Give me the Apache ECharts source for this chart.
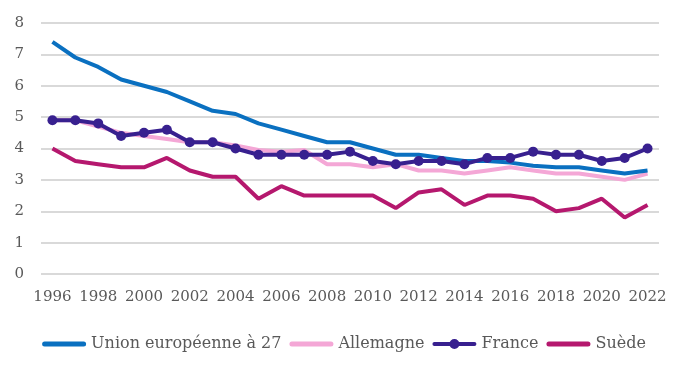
<!DOCTYPE html>
<html><head><meta charset="utf-8">
<script src="https://cdn.jsdelivr.net/npm/echarts@6/dist/echarts.min.js"></script>
<style>html,body{margin:0;padding:0;background:#fff}#c{width:688px;height:371px}</style>
</head><body><div id="c"></div>
<script>
const years = ['1996','1997','1998','1999','2000','2001','2002','2003','2004','2005','2006','2007','2008','2009','2010','2011','2012','2013','2014','2015','2016','2017','2018','2019','2020','2021','2022'];
const ue27 = [7.4,6.9,6.6,6.2,6.0,5.8,5.5,5.2,5.1,4.8,4.6,4.4,4.2,4.2,4.0,3.8,3.8,3.7,3.6,3.6,3.55,3.45,3.4,3.4,3.3,3.2,3.3];
const allemagne = [4.9,4.9,4.7,4.5,4.4,4.3,4.2,4.2,4.1,3.95,3.9,3.95,3.5,3.5,3.4,3.5,3.3,3.3,3.2,3.3,3.4,3.3,3.2,3.2,3.1,3.0,3.2];
const france = [4.9,4.9,4.8,4.4,4.5,4.6,4.2,4.2,4.0,3.8,3.8,3.8,3.8,3.9,3.6,3.5,3.6,3.6,3.5,3.7,3.7,3.9,3.8,3.8,3.6,3.7,4.0];
const suede = [4.0,3.6,3.5,3.4,3.4,3.7,3.3,3.1,3.1,2.4,2.8,2.5,2.5,2.5,2.5,2.1,2.6,2.7,2.2,2.5,2.5,2.4,2.0,2.1,2.4,1.8,2.2];
const names = ['Union européenne à 27','Allemagne','France','Suède'];
const colors = ['#0a70c0','#f4a7d6','#38208f','#b5186e'];
const font = 'DejaVu Serif';
const fs = 15;
const bbox = 'M0,0 L0.01,0 L0,0.01 Z M44,10 L43.99,10 L44,9.99 Z ';
const lineIcon = 'path://' + bbox + 'M2.5,2.5 L41.5,2.5 A2.5,2.5 0 0 1 41.5,7.5 L2.5,7.5 A2.5,2.5 0 0 1 2.5,2.5 Z';
const markIcon = 'path://' + bbox + 'M2,3 L17.5,3 L17.5,7 L2,7 A2,2 0 0 1 2,3 Z M26.5,3 L42,3 A2,2 0 0 1 42,7 L26.5,7 Z M17,5 A5,5 0 1 1 27,5 A5,5 0 1 1 17,5 Z';
const chart = echarts.init(document.getElementById('c'));
function line(name, data, color, marker, z){
  return {name, type:'line', data, z, symbol: marker?'circle':'none', symbolSize:10, showSymbol:marker,
    lineStyle:{width:4,color}, itemStyle:{color}, animation:false};
}
chart.setOption({
  animation:false,
  grid:{left:41,right:29,top:23,bottom:97},
  legend:{top:331,left:'center',itemWidth:44,itemHeight:10,itemGap:8,
    textStyle:{fontFamily:font,fontSize:16,color:'#595959'},
    data:names.map((n,i)=>({name:n,icon: i===2 ? markIcon : lineIcon}))},
  xAxis:{type:'category',data:years,boundaryGap:true,
    axisLine:{show:false},axisTick:{show:false},
    axisLabel:{interval:1,margin:16,fontFamily:font,fontSize:fs,color:'#595959'}},
  yAxis:{type:'value',min:0,max:8,interval:1,
    axisLabel:{margin:17,fontFamily:font,fontSize:fs,color:'#595959'},
    splitLine:{lineStyle:{color:'#d9d9d9',width:2}}},
  series:[
    line(names[0],ue27,colors[0],false,3),
    line(names[1],allemagne,colors[1],false,2),
    line(names[2],france,colors[2],true,4),
    line(names[3],suede,colors[3],false,1)
  ]
});
</script></body></html>
